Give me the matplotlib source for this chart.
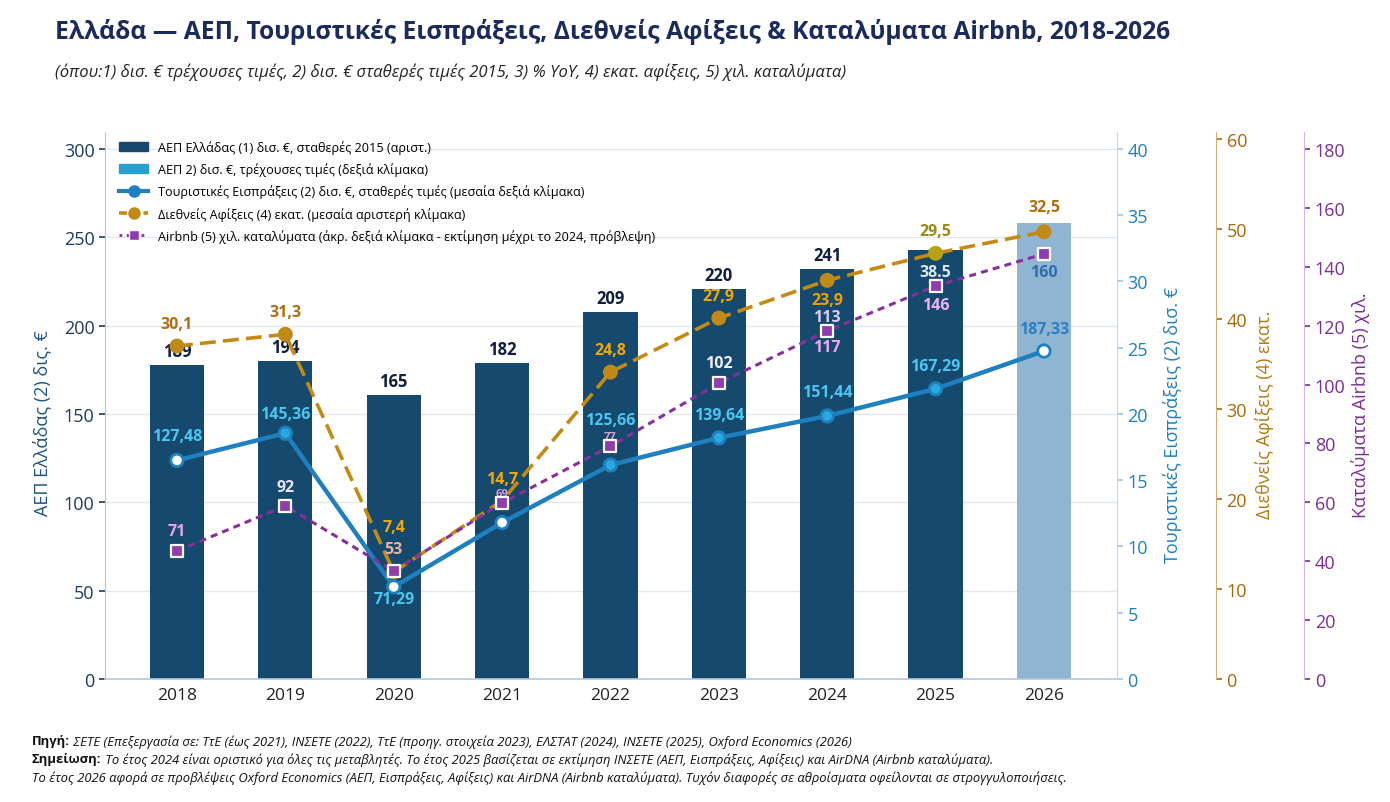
import matplotlib
matplotlib.use('Agg')
import matplotlib.pyplot as plt
from matplotlib.patches import Patch
from matplotlib.lines import Line2D

plt.rcParams['font.family'] = ['Open Sans', 'DejaVu Sans']

# Data
years = ['2018', '2019', '2020', '2021', '2022', '2023', '2024', '2025', '2026']
gdp = [178, 180, 161, 179, 208, 221, 232, 243, 258]
gdp_labels = ['189', '194', '165', '182', '209', '220', '241', '', '']
receipts = [16.5, 18.55, 6.95, 11.8, 16.15, 18.2, 19.85, 21.9, 24.75]
receipts_labels = ['127,48', '145,36', '71,29', '', '125,66', '139,64', '151,44', '167,29', '187,33']
arrivals = [37.0, 38.3, 11.9, 19.8, 34.1, 40.1, 44.3, 47.3, 49.7]
arrivals_labels = ['30,1', '31,3', '7,4', '14,7', '24,8', '27,9', '23,9', '29,5', '32,5']
airbnb = [43.5, 58.8, 36.7, 59.8, 79.1, 100.5, 118.2, 133.5, 144.4]
airbnb_labels = ['71', '92', '53', '69', '77', '102', '117', '146', '160']
airbnb_extra = ['', '', '', '', '', '', '113', '38.5', '']

NAVY = '#15496e'
BLUE = '#1e80bf'
GOLD = '#c48a12'
PURPLE = '#86309c'

fig = plt.figure(figsize=(13.9, 8.03), dpi=100)
W, H = 1390, 803


def fx(px):
    return px / W


def fy(py):
    return 1 - py / H


ax = fig.add_axes([fx(105), fy(680), fx(1117) - fx(105), fy(133) - fy(680)])
x = list(range(len(years)))

# bars
bar_colors = [NAVY] * 8 + ['#8fb5d3']
ax.bar(x, gdp, width=0.5, color=bar_colors, zorder=2)
ax.set_xlim(-0.664, 8.674)
ax.set_ylim(0, 309.6)
ax.set_yticks(range(0, 301, 50))
ax.set_xticks(x)
ax.set_xticklabels(years)
ax.grid(axis='y', color='#dfe7ef', lw=1)
ax.set_axisbelow(True)
ax.tick_params(axis='y', colors='#1b3a66', labelsize=13, length=4, width=1.2)
ax.tick_params(axis='x', colors='#222222', labelsize=12.5, length=0, pad=6)
for s in ['top', 'right']:
    ax.spines[s].set_visible(False)
ax.spines['left'].set_color('#b5c8da')
ax.spines['bottom'].set_color('#b5c8da')
ax.spines['bottom'].set_linewidth(1.2)
for i, lab in enumerate(gdp_labels):
    if lab:
        ax.annotate(lab, (i, gdp[i]), xytext=(0, 14), textcoords='offset pixels',
                    ha='center', va='center', fontsize=12, fontweight='bold',
                    color='#0f1f3d', zorder=5)

# tourism receipts axis
ax_r = ax.twinx()
ax_r.set_ylim(0, 41.28)
ax_r.set_yticks(range(0, 41, 5))
ax_r.tick_params(axis='y', labelcolor='#1e80bf', color='#9cc4e0', labelsize=13, length=4, width=1.2)
for s in ['top', 'left', 'bottom']:
    ax_r.spines[s].set_visible(False)
ax_r.spines['right'].set_color('#c3d8ea')

# arrivals axis
ax_a = ax.twinx()
ax_a.spines['right'].set_position(('axes', 1.098))
ax_a.set_ylim(0, 60.78)
ax_a.set_yticks(range(0, 61, 10))
ax_a.tick_params(axis='y', labelcolor='#a8680a', color='#a8680a', labelsize=13, length=4, width=1.2)
for s in ['top', 'left', 'bottom']:
    ax_a.spines[s].set_visible(False)
ax_a.spines['right'].set_color('#cfae70')

# airbnb axis
ax_b = ax.twinx()
ax_b.spines['right'].set_position(('axes', 1.185))
ax_b.set_ylim(0, 185.8)
ax_b.set_yticks(range(0, 181, 20))
ax_b.tick_params(axis='y', labelcolor='#7a2d96', color='#7a2d96', labelsize=13, length=4, width=1.2)
for s in ['top', 'left', 'bottom']:
    ax_b.spines[s].set_visible(False)
ax_b.spines['right'].set_color('#d2b8e2')

# receipts line
ax_r.plot(x, receipts, color=BLUE, lw=3.2, zorder=3)
rec_face = ['white', '#2aa8e0', 'white', 'white', '#2aa8e0', '#2aa8e0', '#2aa8e0', '#2aa8e0', 'white']
ax_r.scatter(x, receipts, s=80, c=rec_face, edgecolors=BLUE, linewidths=2, zorder=4)
rec_off = [-24, -19, 12, 0, -45, -23, -24, -23, -22]
rec_col = ['#4cc6f0'] * 8 + ['#2a80c0']
for i, lab in enumerate(receipts_labels):
    if lab:
        ax_r.annotate(lab, (i, receipts[i]), xytext=(0, -rec_off[i]), textcoords='offset pixels',
                      ha='center', va='center', fontsize=11.5, fontweight='bold', color=rec_col[i])

# arrivals line
ax_a.plot(x, arrivals, color=GOLD, lw=2.6, dashes=(4.4, 2.0), zorder=3)
arr_face = ['#c08a18'] * 7 + ['#b8a012', '#c08a18']
ax_a.scatter(x[:3] + x[4:], arrivals[:3] + arrivals[4:], s=95,
             c=arr_face[:3] + arr_face[4:], zorder=4)
arr_off = [-22, -22, -45, -22, -22, -22, 20, -22, -25]
arr_col = ['#b06e10', '#b06e10', '#f2a800', '#f2a800', '#f2a800', '#f2a800', '#f2a000', '#9a8a10', '#b06e10']
for i, lab in enumerate(arrivals_labels):
    ax_a.annotate(lab, (i, arrivals[i]), xytext=(0, -arr_off[i]), textcoords='offset pixels',
                  ha='center', va='center', fontsize=11.5, fontweight='bold', color=arr_col[i])

# airbnb line
ax_b.plot(x, airbnb, color=PURPLE, lw=2.2, dashes=(2.3, 1.7), zorder=3)
ax_b.scatter(x, airbnb, s=70, marker='s', c='#8e3cae', edgecolors='white', linewidths=1.6, zorder=4)
bnb_off = [-20, -19, -22, -9, -10, -20, 16, 19, 18]
bnb_col = ['#e9a2ea', '#ece4f6', '#eab2a2', '#d8a0d0', '#d8a0d0', '#f2f0fa', '#f0a6f0', '#f2b2f0', '#2f6cb0']
bnb_size = [11.5, 11.5, 11.5, 8, 8, 11.5, 11.5, 11.5, 11.5]
for i, lab in enumerate(airbnb_labels):
    ax_b.annotate(lab, (i, airbnb[i]), xytext=(0, -bnb_off[i]), textcoords='offset pixels',
                  ha='center', va='center', fontsize=bnb_size[i], fontweight='bold', color=bnb_col[i])
for i, lab in enumerate(airbnb_extra):
    if lab:
        ax_b.annotate(lab, (i, airbnb[i]), xytext=(0, 14), textcoords='offset pixels',
                      ha='center', va='center', fontsize=11.5, fontweight='bold',
                      color='#d8cdf2' if i == 6 else '#dbe8f2')

# axis titles
fig.text(fx(42), fy(423), 'ΑΕΠ Ελλάδας (2) δις. €', rotation=90, ha='center', va='center',
         fontsize=13, color='#1d5285')
fig.text(fx(1172), fy(425), 'Τουριστικές Εισπράξεις (2) δισ. €', rotation=90, ha='center', va='center',
         fontsize=13, color='#1e80bf')
fig.text(fx(1265), fy(415), 'Διεθνείς Αφίξεις (4) εκατ.', rotation=90, ha='center', va='center',
         fontsize=13, color='#b07a10')
fig.text(fx(1360), fy(405), 'Καταλύματα Airbnb (5) χιλ.', rotation=90, ha='center', va='center',
         fontsize=13, color='#7a2d96')

# legend
handles = [
    Patch(color='#15496e'),
    Patch(color='#2b9fcf'),
    Line2D([], [], color=BLUE, lw=3, marker='o', markersize=8),
    Line2D([], [], color=GOLD, lw=2.6, dashes=(2.2, 1.2), marker='o', markersize=8, markerfacecolor='#c08a18'),
    Line2D([], [], color=PURPLE, lw=2, ls=':', marker='s', markersize=7, markerfacecolor='#8e3cae',
           markeredgecolor='white'),
]
labels = [
    'ΑΕΠ Ελλάδας (1) δισ. €, σταθερές 2015 (αριστ.)',
    'ΑΕΠ 2) δισ. €, τρέχουσες τιμές (δεξιά κλίμακα)',
    'Τουριστικές Εισπράξεις (2) δισ. €, σταθερές τιμές (μεσαία δεξιά κλίμακα)',
    'Διεθνείς Αφίξεις (4) εκατ. (μεσαία αριστερή κλίμακα)',
    'Airbnb (5) χιλ. καταλύματα (άκρ. δεξιά κλίμακα - εκτίμηση μέχρι το 2024, πρόβλεψη)',
]
leg = ax_b.legend(handles, labels, loc='upper left', bbox_to_anchor=(0.006, 1.0),
                  frameon=False, prop={'size': 9.1}, handlelength=2.3,
                  labelspacing=0.66, handletextpad=0.8, borderaxespad=0.25)
leg.set_zorder(10)

# titles
fig.text(fx(55), fy(32), 'Ελλάδα — ΑΕΠ, Τουριστικές Εισπράξεις, Διεθνείς Αφίξεις & Καταλύματα Airbnb, 2018-2026',
         ha='left', va='center', fontsize=17.7, fontweight='bold', color='#1a2b5c')
fig.text(fx(55), fy(72), '(όπου:1) δισ. € τρέχουσες τιμές, 2) δισ. € σταθερές τιμές 2015, 3) % YoY, '
         '4) εκατ. αφίξεις, 5) χιλ. καταλύματα)',
         ha='left', va='center', fontsize=12, style='italic', color='#222222')

# footnotes
notes = [
    ('Πηγή:', ' ΣΕΤΕ (Επεξεργασία σε: ΤτΕ (έως 2021), ΙΝΣΕΤΕ (2022), ΤτΕ (προηγ. στοιχεία 2023), '
              'ΕΛΣΤΑΤ (2024), ΙΝΣΕΤΕ (2025), Oxford Economics (2026)'),
    ('Σημείωση:', ' Το έτος 2024 είναι οριστικό για όλες τις μεταβλητές. Το έτος 2025 βασίζεται σε εκτίμηση '
                  'ΙΝΣΕΤΕ (ΑΕΠ, Εισπράξεις, Αφίξεις) και AirDNA (Airbnb καταλύματα).'),
    ('', 'Το έτος 2026 αφορά σε προβλέψεις Oxford Economics (ΑΕΠ, Εισπράξεις, Αφίξεις) και AirDNA '
         '(Airbnb καταλύματα). Τυχόν διαφορές σε αθροίσματα οφείλονται σε στρογγυλοποιήσεις.'),
]
fig.canvas.draw()
renderer = fig.canvas.get_renderer()
for k, (bold, rest) in enumerate(notes):
    ypos = fy(742 + 18 * k)
    xpos = fx(32)
    if bold:
        t = fig.text(xpos, ypos, bold, ha='left', va='center', fontsize=9.4, fontweight='bold',
                     color='#111111')
        bb = t.get_window_extent(renderer)
        xpos = bb.x1 / W
    fig.text(xpos, ypos, rest, ha='left', va='center', fontsize=9.4, style='italic',
             color='#111111')

fig.savefig('out.png', dpi=100)
